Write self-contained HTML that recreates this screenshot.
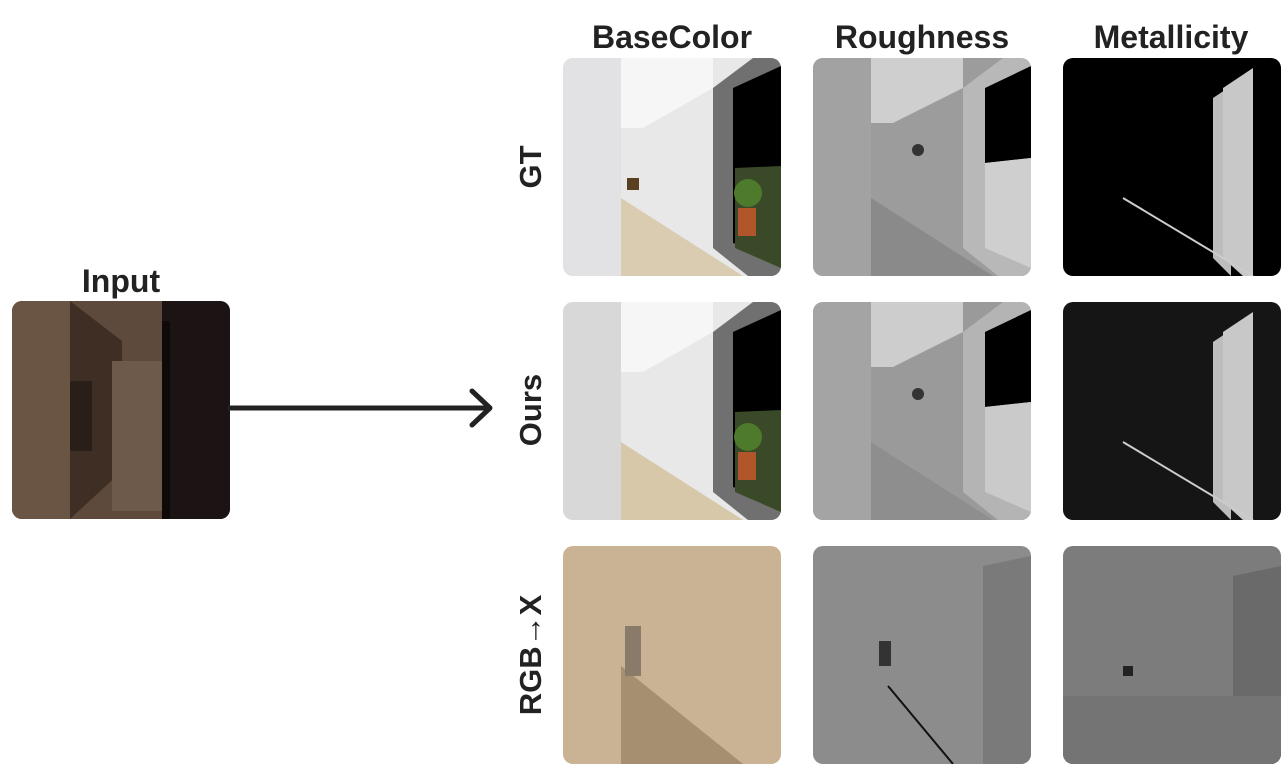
<!DOCTYPE html>
<html><head><meta charset="utf-8"><style>
body{margin:0;width:1281px;height:764px;background:#fff;position:relative;overflow:hidden;font-family:"Liberation Sans",sans-serif;}
.t{position:absolute;font-weight:bold;font-size:32px;color:#222;text-align:center;width:240px;}
.img{position:absolute;width:218px;height:218px;border-radius:10px;overflow:hidden;}
.img svg{display:block}
.rl{position:absolute;font-weight:bold;font-size:31px;color:#222;transform:rotate(-90deg);transform-origin:center;white-space:nowrap;text-align:center;width:200px;}
</style></head><body>
<div class="t" style="left:552px;top:19px">BaseColor</div>
<div class="t" style="left:802px;top:19px">Roughness</div>
<div class="t" style="left:1051px;top:19px">Metallicity</div>
<div class="t" style="left:1px;top:263px">Input</div>
<div class="rl" style="left:431px;top:149px">GT</div>
<div class="rl" style="left:431px;top:392px">Ours</div>
<div class="rl" style="left:431px;top:637px">RGB→X</div>

<!-- Input -->
<div class="img" style="left:12px;top:301px"><svg width="218" height="218">
<rect width="218" height="218" fill="#3a2c24"/>
<rect x="0" y="0" width="58" height="218" fill="#6a5444"/>
<polygon points="58,0 150,0 150,218 58,218" fill="#5e4a3c"/>
<polygon points="58,0 110,40 110,170 58,218" fill="#3e2e24"/>
<rect x="58" y="80" width="22" height="70" fill="#2a1e18"/>
<rect x="100" y="60" width="50" height="150" fill="#6e5a4a"/>
<rect x="150" y="0" width="68" height="218" fill="#1c1414"/>
<rect x="150" y="20" width="8" height="198" fill="#0e0a0a"/>
</svg></div>
<!-- arrow -->
<svg style="position:absolute;left:228px;top:388px" width="270" height="42">
<line x1="0" y1="20" x2="262" y2="20" stroke="#222" stroke-width="5"/>
<polyline points="244,3 262,20 244,37" fill="none" stroke="#222" stroke-width="5" stroke-linejoin="round" stroke-linecap="round"/>
</svg>

<!-- BaseColor GT -->
<div class="img" style="left:563px;top:58px"><svg width="218" height="218">
<rect width="218" height="218" fill="#e8e8e8"/>
<rect width="58" height="218" fill="#e2e2e4"/>
<polygon points="58,0 150,0 150,30 80,70 58,70" fill="#f6f6f6"/>
<polygon points="58,140 180,218 58,218" fill="#d9ccb0"/>
<polygon points="150,30 190,0 218,0 218,218 185,218 150,190" fill="#707070"/>
<polygon points="170,30 218,8 218,200 170,185" fill="#000"/>
<polygon points="172,110 218,108 218,210 172,190" fill="#3a4a28"/>
<circle cx="185" cy="135" r="14" fill="#4e7a2c"/>
<rect x="175" y="150" width="18" height="28" fill="#b0562a"/>
<rect x="64" y="120" width="12" height="12" fill="#5a4020"/>
</svg></div>
<!-- Roughness GT -->
<div class="img" style="left:813px;top:58px"><svg width="218" height="218">
<rect width="218" height="218" fill="#9c9c9c"/>
<polygon points="58,0 150,0 150,30 80,65 58,65" fill="#cfcfcf"/>
<rect width="58" height="218" fill="#a2a2a2"/>
<polygon points="58,140 180,218 58,218" fill="#8a8a8a"/>
<polygon points="150,30 190,0 218,0 218,218 185,218 150,190" fill="#b8b8b8"/>
<polygon points="172,30 218,8 218,100 172,105" fill="#000"/>
<polygon points="172,105 218,100 218,210 172,190" fill="#cfcfcf"/>
<circle cx="105" cy="92" r="6" fill="#333"/>
</svg></div>
<!-- Metal GT -->
<div class="img" style="left:1063px;top:58px"><svg width="218" height="218">
<rect width="218" height="218" fill="#000"/>
<polygon points="150,40 168,28 168,218 150,200" fill="#bdbdbd"/>
<polygon points="160,30 190,10 190,218 180,218 160,200" fill="#c8c8c8"/>
<line x1="60" y1="140" x2="190" y2="218" stroke="#ccc" stroke-width="2"/>
</svg></div>

<!-- BaseColor Ours -->
<div class="img" style="left:563px;top:302px"><svg width="218" height="218">
<rect width="218" height="218" fill="#e8e8e8"/>
<rect width="58" height="218" fill="#d8d8d8"/>
<polygon points="58,0 150,0 150,30 80,70 58,70" fill="#f6f6f6"/>
<polygon points="58,140 180,218 58,218" fill="#d6c8a8"/>
<polygon points="150,30 190,0 218,0 218,218 185,218 150,190" fill="#707070"/>
<polygon points="170,30 218,8 218,200 170,185" fill="#000"/>
<polygon points="172,110 218,108 218,210 172,190" fill="#3a4a28"/>
<circle cx="185" cy="135" r="14" fill="#4e7a2c"/>
<rect x="175" y="150" width="18" height="28" fill="#b0562a"/>
</svg></div>
<!-- Roughness Ours -->
<div class="img" style="left:813px;top:302px"><svg width="218" height="218">
<rect width="218" height="218" fill="#9a9a9a"/>
<polygon points="58,0 150,0 150,30 80,65 58,65" fill="#cdcdcd"/>
<rect width="58" height="218" fill="#a4a4a4"/>
<polygon points="58,140 180,218 58,218" fill="#8e8e8e"/>
<polygon points="150,30 190,0 218,0 218,218 185,218 150,190" fill="#b4b4b4"/>
<polygon points="172,30 218,8 218,100 172,105" fill="#000"/>
<polygon points="172,105 218,100 218,210 172,190" fill="#cacaca"/>
<circle cx="105" cy="92" r="6" fill="#333"/>
</svg></div>
<!-- Metal Ours -->
<div class="img" style="left:1063px;top:302px"><svg width="218" height="218">
<rect width="218" height="218" fill="#151515"/>
<polygon points="150,40 168,28 168,218 150,200" fill="#bdbdbd"/>
<polygon points="160,30 190,10 190,218 180,218 160,200" fill="#c8c8c8"/>
<line x1="60" y1="140" x2="190" y2="218" stroke="#ccc" stroke-width="2"/>
</svg></div>

<!-- BaseColor RGBX -->
<div class="img" style="left:563px;top:546px"><svg width="218" height="218">
<rect width="218" height="218" fill="#c9b394"/>
<polygon points="58,120 180,218 58,218" fill="#a68e70"/>
<rect x="62" y="80" width="16" height="50" fill="#8a7a6a"/>
</svg></div>
<!-- Roughness RGBX -->
<div class="img" style="left:813px;top:546px"><svg width="218" height="218">
<rect width="218" height="218" fill="#8c8c8c"/>
<polygon points="170,20 218,10 218,218 170,218" fill="#7a7a7a"/>
<rect x="66" y="95" width="12" height="25" fill="#333"/>
<line x1="75" y1="140" x2="140" y2="218" stroke="#111" stroke-width="2"/>
</svg></div>
<!-- Metal RGBX -->
<div class="img" style="left:1063px;top:546px"><svg width="218" height="218">
<rect width="218" height="218" fill="#7c7c7c"/>
<polygon points="170,30 218,20 218,218 170,218" fill="#6a6a6a"/>
<rect x="0" y="150" width="218" height="68" fill="#747474"/>
<rect x="60" y="120" width="10" height="10" fill="#222"/>
</svg></div>
</body></html>
